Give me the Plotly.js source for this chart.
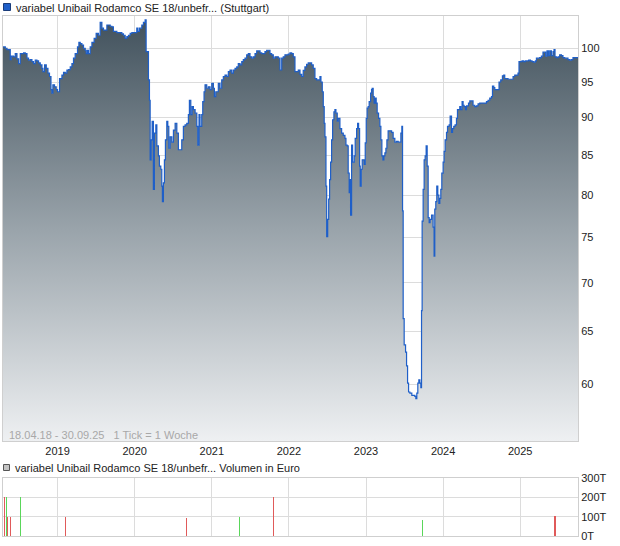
<!DOCTYPE html>
<html>
<head>
<meta charset="utf-8">
<script src="https://cdn.plot.ly/plotly-3.0.1.min.js"></script>
<style>
html,body{margin:0;padding:0;background:#fff;}
#chart{width:620px;height:546px;}
</style>
</head>
<body>
<div id="chart"></div>
<script>
// Weekly price series (decimal year, price in %)
const priceYears = [
2018.293,2018.323,2018.345,2018.387,2018.400,2018.430,2018.452,2018.474,2018.495,2018.517,
2018.560,2018.582,2018.604,2018.624,2018.646,2018.668,2018.689,2018.711,2018.733,2018.754,
2018.776,2018.798,2018.811,2018.832,2018.854,2018.876,2018.896,2018.915,2018.927,2018.940,
2018.961,2018.983,2019.000,2019.026,2019.057,2019.078,2019.100,2019.122,2019.142,2019.165,
2019.187,2019.207,2019.229,2019.259,2019.277,2019.294,2019.316,2019.337,2019.359,2019.372,
2019.389,2019.402,2019.424,2019.446,2019.475,2019.501,2019.531,2019.553,2019.575,2019.596,
2019.618,2019.640,2019.683,2019.705,2019.725,2019.747,2019.769,2019.812,2019.834,2019.855,
2019.877,2019.899,2019.920,2019.942,2019.964,2020.006,2020.028,2020.041,2020.062,2020.093,
2020.114,2020.136,2020.149,2020.179,2020.192,
2020.201,2020.214,2020.227,2020.243,2020.256,2020.275,2020.288,2020.308,2020.321,2020.339,
2020.352,2020.360,2020.373,2020.386,2020.399,2020.417,2020.430,2020.443,2020.460,2020.482,
2020.503,2020.525,2020.547,2020.567,2020.589,2020.611,2020.632,2020.654,2020.676,2020.697,
2020.710,2020.728,2020.745,2020.762,2020.784,2020.806,2020.819,2020.835,2020.848,2020.870,
2020.883,2020.900,2020.913,2020.935,2020.956,2020.978,2021.000,2021.021,2021.034,2021.052,
2021.072,2021.085,2021.107,2021.129,2021.150,2021.172,2021.194,2021.215,2021.237,2021.259,
2021.280,2021.302,2021.324,2021.344,2021.367,2021.389,2021.409,2021.431,2021.453,2021.474,
2021.496,2021.518,2021.539,2021.561,2021.583,2021.604,2021.626,2021.648,2021.668,2021.690,
2021.712,2021.733,2021.755,2021.777,2021.798,2021.820,2021.842,2021.863,2021.885,2021.907,
2021.927,2021.949,2021.971,2021.992,2022.014,2022.036,2022.057,2022.079,2022.101,2022.122,
2022.144,2022.166,2022.186,2022.208,2022.230,2022.251,2022.273,2022.295,2022.316,2022.338,
2022.360,2022.381,2022.403,2022.416,2022.433,2022.446,2022.458,2022.468,2022.481,2022.490,
2022.503,2022.516,2022.528,2022.541,2022.554,2022.567,2022.584,2022.597,2022.610,2022.627,
2022.640,2022.662,2022.684,2022.705,2022.727,2022.740,2022.756,2022.769,2022.782,2022.791,
2022.800,2022.813,2022.826,2022.847,2022.860,2022.878,2022.891,2022.904,2022.917,2022.925,
2022.938,2022.951,2022.977,2022.990,2023.003,2023.015,2023.028,2023.041,2023.060,2023.072,
2023.080,2023.093,2023.106,2023.119,2023.132,2023.145,2023.163,2023.180,2023.193,2023.206,
2023.219,2023.232,2023.245,2023.258,2023.271,2023.287,2023.309,2023.332,2023.352,2023.374,
2023.396,2023.417,2023.439,2023.452,2023.465,2023.474,2023.482,2023.495,2023.513,2023.526,
2023.539,2023.552,2023.569,2023.594,2023.633,2023.646,2023.659,2023.672,2023.685,2023.698,
2023.711,2023.720,2023.728,2023.741,2023.754,2023.767,2023.780,2023.793,2023.806,2023.819,
2023.831,2023.850,2023.870,2023.883,2023.892,2023.905,2023.918,2023.931,2023.944,2023.957,
2023.970,2023.983,2024.000,2024.013,2024.026,2024.044,2024.057,2024.078,2024.091,2024.109,
2024.122,2024.138,2024.155,2024.173,2024.186,2024.203,2024.216,2024.229,2024.246,2024.259,
2024.272,2024.290,2024.303,2024.329,2024.346,2024.368,2024.388,2024.410,2024.432,2024.453,
2024.475,2024.497,2024.540,2024.562,2024.583,2024.605,2024.627,2024.640,2024.657,2024.670,
2024.712,2024.725,2024.747,2024.769,2024.786,2024.799,2024.821,2024.842,2024.886,2024.907,
2024.929,2024.951,2024.971,2024.984,2025.002,2025.023,2025.045,2025.067,2025.088,2025.110,
2025.132,2025.153,2025.175,2025.197,2025.210,2025.230,2025.252,2025.274,2025.295,2025.317,
2025.330,2025.347,2025.365,2025.382,2025.404,2025.425,2025.438,2025.451,2025.469,2025.489,
2025.511,2025.534,2025.554,2025.576,2025.598,2025.619,2025.641,2025.663,2025.684,2025.706,
2025.728,2025.749
];
const priceValues = [
100.2,100.0,99.8,98.3,98.8,98.7,99.2,98.4,97.7,99.2,
99.3,99.2,98.5,98.2,98.3,98.0,97.7,98.2,98.1,97.8,
97.5,97.0,96.5,97.5,97.0,96.3,95.8,93.9,93.4,94.6,
94.3,93.9,93.6,95.5,96.0,96.4,96.3,96.75,96.8,97.2,
97.7,98.5,99.2,100.2,100.9,100.7,100.5,100.0,99.7,99.2,
99.7,99.2,100.2,100.9,101.5,102.3,102.0,104.0,103.1,102.8,
102.8,103.6,103.4,103.3,102.6,102.6,102.4,102.4,102.2,102.0,
101.5,101.8,102.0,102.3,102.4,102.4,103.1,102.6,103.1,103.6,
104.0,104.4,99.5,95.3,92.4,
84.4,87.0,89.5,80.7,87.9,89.0,86.2,84.9,83.6,83.2,
81.1,79.2,81.5,84.4,87.0,89.5,88.8,85.9,87.4,86.7,
88.3,89.2,87.9,85.7,85.7,87.0,88.8,89.0,89.2,90.4,
92.4,90.4,91.5,91.1,90.6,88.8,86.3,90.4,88.8,90.4,
92.2,93.6,94.6,94.1,94.3,93.9,94.8,94.1,92.9,93.6,
93.6,94.8,94.1,95.3,95.8,96.0,95.8,96.5,96.75,96.3,
96.75,97.0,97.2,97.7,97.5,98.0,98.3,98.5,99.0,99.2,
98.7,98.5,98.7,99.2,99.6,99.6,99.3,99.2,99.2,99.5,
99.7,99.7,99.2,99.0,98.5,98.7,98.7,98.5,96.75,98.5,
98.7,99.0,99.0,99.1,99.3,99.2,98.7,96.5,96.5,96.75,
96.1,95.8,96.7,97.2,97.6,97.8,97.8,97.5,97.0,95.5,
95.3,95.3,95.8,95.0,93.6,91.5,89.2,87.4,81.1,75.1,
77.1,79.5,81.9,84.1,87.0,89.7,90.8,91.1,90.6,89.5,
89.9,88.5,87.9,87.6,87.2,86.3,86.2,82.7,80.3,81.9,
77.6,86.3,84.1,84.9,87.2,88.5,89.2,88.5,83.6,81.1,
83.2,84.4,83.8,86.6,89.9,91.3,91.5,92.2,93.4,93.9,
94.1,92.9,92.0,92.7,92.0,90.6,89.9,88.8,87.0,84.9,
84.4,84.9,85.3,85.9,87.0,88.2,88.2,88.0,87.2,86.7,
86.8,86.7,86.7,87.9,88.8,78.1,66.3,63.7,63.0,61.7,
60.1,59.3,59.2,59.0,58.9,58.7,59.2,60.1,60.4,60.1,
59.7,67.1,76.9,80.7,84.4,84.9,86.2,83.6,77.3,76.7,
77.1,77.6,76.2,72.9,78.3,79.2,81.1,80.0,79.0,79.6,
80.7,82.7,84.1,85.5,87.0,88.0,88.8,89.0,90.2,88.0,
88.5,88.8,89.0,89.9,91.1,91.1,91.5,91.1,92.2,91.7,
91.5,91.1,91.6,92.0,92.3,92.3,91.7,91.5,91.6,91.9,
92.0,92.0,92.0,92.2,92.4,92.7,92.9,94.4,94.2,93.9,
93.9,95.0,95.3,95.9,96.0,95.5,95.5,95.4,95.4,95.8,
96.0,96.0,96.3,98.0,98.0,98.1,98.0,98.1,98.1,98.2,
98.1,98.0,97.9,98.1,98.5,98.5,98.6,98.8,99.4,99.4,
98.8,99.6,98.9,99.6,98.9,99.5,99.8,98.7,98.6,98.7,
99.0,98.9,98.6,98.5,98.5,98.3,98.2,98.3,98.6,98.6,
98.6,98.6
];

// Volume (Euro)
const volumeYears  = [2018.310,2018.339,2018.352,2018.391,2018.521,2019.104,2020.671,2021.357,2021.798,2023.728,2025.451];
const volumeValues = [200000,200000,100000,100000,200000,100000,92000,100000,200000,83000,103000];
const volumeUp     = [false,true,false,false,true,false,false,true,false,true,false];

const yearTicks = [2019,2020,2021,2022,2023,2024,2025];
const yearLabels = ['2019','2020','2021','2022','2023','2024','2025'];
const priceTicks = [60,65,70,75,80,85,90,95,100];
const priceLabels = ['60','65','70','75','80','85','90','95','100'];
const volTicks = [0,100000,200000,300000];
const volLabels = ['0T','100T','200T','300T'];

const seriesName = 'variabel Unibail Rodamco SE 18/unbefr... (Stuttgart)';
const volumeName = 'variabel Unibail Rodamco SE 18/unbefr... Volumen in Euro';
const rangeNote = '18.04.18 - 30.09.25\u00a0\u00a0\u00a01 Tick = 1 Woche';

const FONT = 'Liberation Sans, Arial, sans-serif';
const W = 620, H = 546;
const mL = 3, mR = 42, mT = 16, mB = 10;
const pw = W - mL - mR, ph = H - mT - mB;
const px = v => (v - mL) / pw;
const py = v => (H - mB - v) / ph;

const traces = [
  {
    x: priceYears, y: priceValues, type: 'scatter', mode: 'lines',
    line: {color: '#1f5fc8', width: 1.2, shape: 'hv'},
    fill: 'tozeroy',
    fillgradient: {type: 'vertical', start: 55.04, stop: 104.4,
      colorscale: [[0, '#eef0f2'], [0.5, '#9aa4ab'], [1, '#42525d']]},
    xaxis: 'x', yaxis: 'y', hoverinfo: 'skip', showlegend: false
  },
  {
    x: volumeYears, y: volumeValues, type: 'bar',
    width: volumeYears.map(() => 0.016),
    marker: {color: volumeUp.map(u => u ? '#5ad65a' : '#e05a5a'), line: {width: 0}},
    xaxis: 'x2', yaxis: 'y2', hoverinfo: 'skip', showlegend: false
  }
];

const gridC = '#dcdcdc', lineC = '#cfcfcf';
const tickFont = {family: FONT, size: 11, color: '#222'};

const layout = {
  width: W, height: H,
  margin: {l: mL, r: mR, t: mT, b: mB, pad: 0},
  paper_bgcolor: '#fff', plot_bgcolor: '#fff',
  showlegend: false,
  bargap: 0,
  xaxis: {
    domain: [0, 1], range: [2018.293, 2025.749], anchor: 'y',
    tickvals: yearTicks, ticktext: yearLabels, tickfont: tickFont,
    showgrid: true, gridcolor: gridC, gridwidth: 1, zeroline: false,
    showline: true, mirror: true, linecolor: lineC, linewidth: 1,
    ticks: '', fixedrange: true
  },
  yaxis: {
    domain: [py(441), 1], type: 'log', range: [1.7407, 2.0213], anchor: 'x',
    side: 'right', tickvals: priceTicks, ticktext: priceLabels, tickfont: tickFont,
    showgrid: true, gridcolor: gridC, gridwidth: 1, zeroline: false,
    showline: true, mirror: true, linecolor: lineC, linewidth: 1,
    ticks: '', fixedrange: true
  },
  xaxis2: {
    domain: [0, 1], range: [2018.293, 2025.749], anchor: 'y2',
    tickvals: yearTicks, showticklabels: false,
    showgrid: true, gridcolor: gridC, gridwidth: 1, zeroline: false,
    showline: true, mirror: true, linecolor: lineC, linewidth: 1,
    ticks: '', fixedrange: true
  },
  yaxis2: {
    domain: [0, py(478)], range: [0, 300000], anchor: 'x2',
    side: 'right', tickvals: volTicks, ticktext: volLabels, tickfont: tickFont,
    showgrid: true, gridcolor: gridC, gridwidth: 1, zeroline: false,
    showline: true, mirror: true, linecolor: lineC, linewidth: 1,
    ticks: '', fixedrange: true
  },
  shapes: [
    {type: 'rect', xref: 'paper', yref: 'paper', x0: px(3.5), x1: px(10.5), y0: py(10.5), y1: py(3.5),
     fillcolor: '#1f5fc8', line: {color: '#1a3c7a', width: 1}},
    {type: 'rect', xref: 'paper', yref: 'paper', x0: px(3.5), x1: px(9.5), y0: py(470.5), y1: py(464.5),
     fillcolor: '#c4c4c4', line: {color: '#555', width: 1}}
  ],
  annotations: [
    {xref: 'paper', yref: 'paper', x: px(14), y: py(7.5), xanchor: 'left', yanchor: 'middle',
     text: seriesName, showarrow: false, font: {family: FONT, size: 11, color: '#222'}},
    {xref: 'paper', yref: 'paper', x: px(13), y: py(467.5), xanchor: 'left', yanchor: 'middle',
     text: volumeName, showarrow: false, font: {family: FONT, size: 11, color: '#222'}},
    {xref: 'paper', yref: 'paper', x: px(7), y: py(434.5), xanchor: 'left', yanchor: 'middle',
     text: rangeNote, showarrow: false, font: {family: FONT, size: 11, color: '#a8a8a8'}}
  ]
};

Plotly.newPlot('chart', traces, layout, {displayModeBar: false, staticPlot: true});
</script>
</body>
</html>
